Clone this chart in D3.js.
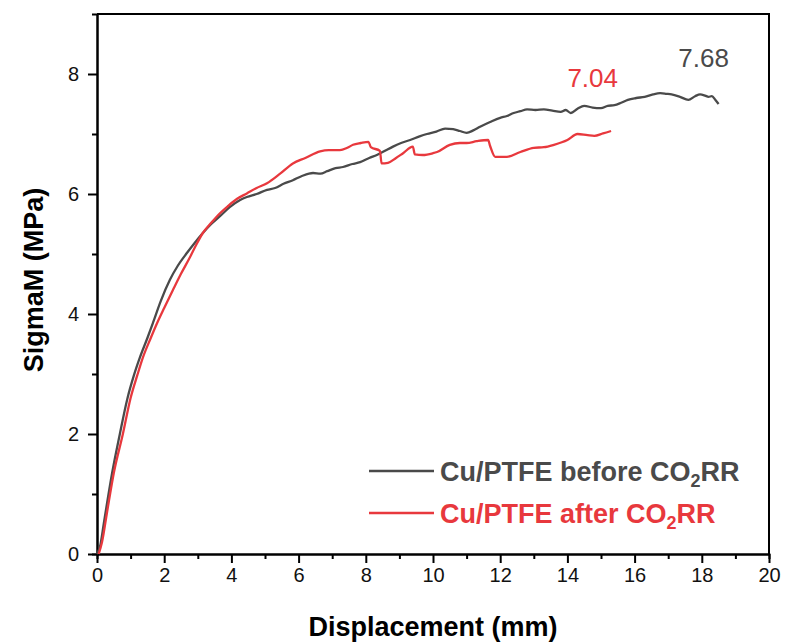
<!DOCTYPE html>
<html>
<head>
<meta charset="utf-8">
<script src="https://cdn.jsdelivr.net/npm/d3@7"></script>
<style>
    body { margin: 0; background: #fff; }
    svg { font-family: "Liberation Sans", Arial, sans-serif; }
</style>
</head>
<body>
<div id="chart"></div>
<script>
// displacement (mm), stress (MPa)
const beforeSeries = [
    [0, 0], [0.1, 0.15], [0.2, 0.5], [0.3, 0.85], [0.45, 1.35], [0.68, 2.0], [0.9, 2.58], [1.1, 2.98],
    [1.28, 3.28], [1.5, 3.6], [1.67, 3.86], [1.9, 4.22], [2.17, 4.57], [2.4, 4.8], [2.68, 5.02],
    [2.9, 5.18], [3.15, 5.35], [3.4, 5.5], [3.66, 5.63], [3.95, 5.78], [4.26, 5.9], [4.46, 5.95],
    [4.75, 6.0], [5.06, 6.07], [5.3, 6.1], [5.55, 6.17], [5.83, 6.23], [6.1, 6.3], [6.43, 6.35],
    [6.65, 6.34], [6.85, 6.38], [7.1, 6.43], [7.32, 6.45], [7.6, 6.5], [7.83, 6.53], [8.1, 6.6],
    [8.33, 6.65], [8.6, 6.73], [8.81, 6.79], [9.05, 6.85], [9.32, 6.9], [9.6, 6.96], [9.82, 7.0],
    [10.1, 7.04], [10.36, 7.09], [10.6, 7.08], [10.8, 7.05], [11.0, 7.02], [11.2, 7.06], [11.4, 7.12],
    [11.7, 7.2], [12.0, 7.27], [12.2, 7.3], [12.4, 7.35], [12.6, 7.38], [12.8, 7.41], [13.05, 7.4],
    [13.3, 7.41], [13.55, 7.39], [13.8, 7.37], [13.95, 7.4], [14.1, 7.35], [14.3, 7.42], [14.5, 7.47],
    [14.75, 7.44], [15.0, 7.43], [15.2, 7.47], [15.4, 7.48], [15.6, 7.52], [15.8, 7.57], [16.05, 7.6],
    [16.3, 7.62], [16.55, 7.66], [16.76, 7.68], [16.95, 7.67], [17.1, 7.66], [17.35, 7.62], [17.6, 7.57],
    [17.8, 7.63], [17.95, 7.66], [18.1, 7.64], [18.2, 7.62], [18.3, 7.63], [18.4, 7.57], [18.5, 7.5]
];

const afterSeries = [
    [0.05, 0], [0.15, 0.2], [0.3, 0.7], [0.5, 1.35], [0.77, 2.0], [1.0, 2.6], [1.2, 2.98], [1.37, 3.28],
    [1.6, 3.6], [1.79, 3.85], [2.0, 4.1], [2.26, 4.4], [2.5, 4.67], [2.77, 4.95], [2.95, 5.15],
    [3.15, 5.35], [3.4, 5.52], [3.66, 5.68], [3.9, 5.8], [4.17, 5.92], [4.46, 6.01], [4.75, 6.1],
    [5.06, 6.18], [5.45, 6.34], [5.83, 6.51], [6.2, 6.6], [6.64, 6.71], [6.9, 6.73], [7.23, 6.73],
    [7.45, 6.77], [7.62, 6.82], [7.85, 6.85], [8.08, 6.87], [8.15, 6.78], [8.42, 6.72], [8.47, 6.51],
    [8.66, 6.52], [8.9, 6.6], [9.11, 6.68], [9.4, 6.79], [9.46, 6.66], [9.7, 6.65], [10.0, 6.68],
    [10.12, 6.7], [10.5, 6.82], [10.8, 6.85], [11.0, 6.85], [11.3, 6.88], [11.64, 6.9], [11.7, 6.8],
    [11.85, 6.62], [12.2, 6.62], [12.6, 6.7], [13.0, 6.77], [13.3, 6.78], [13.6, 6.82], [14.0, 6.9],
    [14.3, 7.0], [14.6, 6.98], [14.8, 6.97], [15.06, 7.01], [15.3, 7.05]
];

const seriesNames = ['Cu/PTFE before CO', 'Cu/PTFE after CO'];
const peakLabels = ['7.68', '7.04'];
const peakLabelX = [17.3, 14.0];
const xTicks = [0, 2, 4, 6, 8, 10, 12, 14, 16, 18, 20];
const yTicks = [0, 2, 4, 6, 8];

const colors = ['#4a4a4a', '#e8383d'];

const width = 785,
    height = 643;
const margin = {top: 14, right: 16, bottom: 89, left: 97};

const svg = d3.select('#chart').append('svg')
    .attr('width', width)
    .attr('height', height);

const xScale = d3.scaleLinear()
    .domain([0, 20])
    .range([margin.left, width - margin.right]);

const yScale = d3.scaleLinear()
    .domain([0, 9])
    .range([height - margin.bottom, margin.top]);

// minor ticks first, then the major ones with labels
const xMinor = d3.axisBottom(xScale)
    .tickValues(d3.range(1, 20, 2))
    .tickSize(5)
    .tickFormat('');

const yMinor = d3.axisLeft(yScale)
    .tickValues(d3.range(1, 9, 2))
    .tickSize(5)
    .tickFormat('');

const xAxis = d3.axisBottom(xScale)
    .tickValues(xTicks)
    .tickSize(9)
    .tickPadding(5)
    .tickSizeOuter(0);

const yAxis = d3.axisLeft(yScale)
    .tickValues(yTicks)
    .tickSize(9)
    .tickPadding(9)
    .tickSizeOuter(0);

svg.append('g')
    .attr('transform', `translate(0,${yScale(0)})`)
    .call(xMinor);

svg.append('g')
    .attr('transform', `translate(${xScale(0)},0)`)
    .call(yMinor);

const gX = svg.append('g')
    .attr('class', 'x axis')
    .attr('transform', `translate(0,${yScale(0)})`)
    .call(xAxis);

const gY = svg.append('g')
    .attr('class', 'y axis')
    .attr('transform', `translate(${xScale(0)},0)`)
    .call(yAxis);

svg.selectAll('.tick line').attr('stroke', '#000').attr('stroke-width', 2);
svg.selectAll('.domain').attr('stroke', '#000').attr('stroke-width', 2);
svg.selectAll('.tick text')
    .attr('font-size', 20)
    .attr('fill', '#111')
    .style('font-family', '"Liberation Sans", Arial, sans-serif');

// top and right frame lines
svg.append('path')
    .attr('d', `M${xScale(0)},${yScale(9)}H${xScale(20)}V${yScale(0)}`)
    .attr('fill', 'none')
    .attr('stroke', '#000')
    .attr('stroke-width', 2);

// axis titles
svg.append('text')
    .attr('x', (xScale(0) + xScale(20)) / 2)
    .attr('y', 636)
    .attr('text-anchor', 'middle')
    .attr('font-size', 27)
    .attr('font-weight', 'bold')
    .text('Displacement (mm)');

svg.append('text')
    .attr('transform', `translate(43,${(yScale(0) + yScale(9)) / 2 - 4}) rotate(-90)`)
    .attr('text-anchor', 'middle')
    .attr('font-size', 27)
    .attr('font-weight', 'bold')
    .text('SigmaM (MPa)');

const line = d3.line()
    .curve(d3.curveMonotoneX)
    .x(d => xScale(d[0]))
    .y(d => yScale(d[1]));

svg.append('g')
    .selectAll('path')
    .data([beforeSeries, afterSeries])
    .enter().append('path')
    .attr('d', line)
    .attr('fill', 'none')
    .attr('stroke', (d, i) => colors[i])
    .attr('stroke-width', 2.3)
    .attr('stroke-linejoin', 'round');

// peak value labels
svg.append('g')
    .selectAll('text')
    .data(peakLabels)
    .enter().append('text')
    .attr('x', (d, i) => xScale(peakLabelX[i]))
    .attr('y', (d, i) => i === 0 ? 67 : 87)
    .attr('font-size', 26)
    .attr('fill', (d, i) => colors[i])
    .text(d => d);

// legend
const legend = svg.append('g')
    .attr('transform', 'translate(369,471)');

const legendItems = legend.selectAll('g')
    .data(seriesNames)
    .enter().append('g')
    .attr('transform', (d, i) => `translate(0,${i * 42})`);

legendItems.append('line')
    .attr('x1', 0)
    .attr('x2', 65)
    .attr('stroke', (d, i) => colors[i])
    .attr('stroke-width', 2.3);

const legendText = legendItems.append('text')
    .attr('x', 71)
    .attr('y', 10)
    .attr('font-size', 27)
    .attr('font-weight', 'bold')
    .attr('fill', (d, i) => colors[i]);

legendText.append('tspan').text(d => d);
legendText.append('tspan')
    .attr('font-size', 18)
    .attr('dy', 6)
    .text('2');
legendText.append('tspan')
    .attr('dy', -6)
    .text('RR');
</script>
</body>
</html>
